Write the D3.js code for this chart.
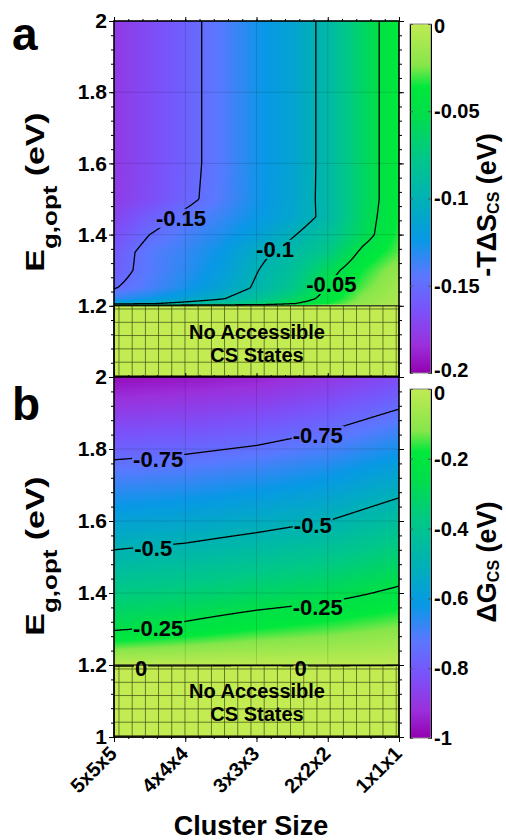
<!DOCTYPE html>
<html lang="en">
<head>
<meta charset="UTF-8">
<script src="https://cdn.jsdelivr.net/npm/d3@7"></script>
<style>
  body { margin: 0; background: #fff; }
  svg text { font-family: "Liberation Sans", Arial, sans-serif; font-weight: bold; fill: #000; }
</style>
</head>
<body>
<script>
// x axis categories (left to right)
var clusters = ["5x5x5", "4x4x4", "3x3x3", "2x2x2", "1x1x1"];

// panel a: -T dS_CS (eV), rows = Eg,opt (eV), columns = cluster-axis position
var colsA = [0, 0.5, 1, 1.5, 2, 2.5, 3, 3.5, 4];
var rowsA = [1.2, 1.205, 1.22, 1.25, 1.3, 1.35, 1.4, 1.45, 1.5, 1.6, 2.0];
var entropyA = [
  [-0.02, -0.02, -0.018, -0.016, -0.014, -0.012, -0.01, -0.008, -0.005],
  [-0.11, -0.1, -0.09, -0.08, -0.07, -0.05, -0.035, -0.018, -0.008],
  [-0.135, -0.125, -0.115, -0.102, -0.085, -0.065, -0.042, -0.022, -0.01],
  [-0.151, -0.14, -0.128, -0.114, -0.097, -0.078, -0.048, -0.028, -0.012],
  [-0.158, -0.143, -0.133, -0.12, -0.101, -0.085, -0.058, -0.035, -0.018],
  [-0.16, -0.143, -0.135, -0.124, -0.106, -0.092, -0.075, -0.045, -0.028],
  [-0.166, -0.15, -0.14, -0.13, -0.118, -0.102, -0.085, -0.058, -0.032],
  [-0.172, -0.158, -0.146, -0.136, -0.124, -0.112, -0.094, -0.06, -0.034],
  [-0.177, -0.167, -0.155, -0.142, -0.127, -0.113, -0.093, -0.062, -0.035],
  [-0.178, -0.168, -0.156, -0.143, -0.127, -0.114, -0.093, -0.062, -0.035],
  [-0.178, -0.168, -0.156, -0.143, -0.127, -0.114, -0.093, -0.062, -0.035]
];
var levelsA = [-0.15, -0.1, -0.05];
var labelsA = [
  {text: "-0.15", x: 0.94, y: 1.447},
  {text: "-0.1", x: 2.26, y: 1.36},
  {text: "-0.05", x: 3.05, y: 1.261}
];
var cbTicksA = [0, -0.05, -0.1, -0.15, -0.2];

// panel b: dG_CS (eV)
var colsB = [0, 1, 2, 3, 4];
var rowsB = [1.18, 1.2, 1.25, 1.3, 1.4, 1.5, 1.6, 1.7, 1.8, 1.9, 2.0];
var freeEnergyB = [
  [0.03, 0.03, 0.03, 0.03, 0.03],
  [-0.005, -0.004, -0.003, -0.004, -0.002],
  [-0.14, -0.114, -0.091, -0.076, -0.058],
  [-0.26, -0.224, -0.178, -0.149, -0.115],
  [-0.37, -0.348, -0.316, -0.284, -0.23],
  [-0.48, -0.46, -0.427, -0.392, -0.334],
  [-0.58, -0.564, -0.535, -0.5, -0.435],
  [-0.68, -0.665, -0.637, -0.6, -0.536],
  [-0.78, -0.765, -0.74, -0.7, -0.638],
  [-0.88, -0.865, -0.842, -0.8, -0.739],
  [-0.98, -0.965, -0.945, -0.9, -0.84]
];
var levelsB = [-0.75, -0.5, -0.25, 0];
var labelsB = [
  {text: "-0.75", x: 0.62, y: 1.772}, {text: "-0.75", x: 2.86, y: 1.839},
  {text: "-0.5", x: 0.55, y: 1.525}, {text: "-0.5", x: 2.79, y: 1.589},
  {text: "-0.25", x: 0.62, y: 1.303}, {text: "-0.25", x: 2.86, y: 1.361},
  {text: "0", x: 0.38, y: 1.192}, {text: "0", x: 2.62, y: 1.192}
];
var cbTicksB = [0, -0.2, -0.4, -0.6, -0.8, -1];

var yTicks = [1, 1.2, 1.4, 1.6, 1.8, 2];

// colour map (fraction of the colour range -> colour)
var stopT = [0, 0.08, 0.18, 0.28, 0.38, 0.5, 0.62, 0.74, 0.82, 0.88, 1];
var stopC = ["#9400b0", "#9a30dc", "#7a52fa", "#5a78ff", "#0898e6", "#00b2b4",
             "#00c888", "#00de4a", "#00e83c", "#86e64a", "#c0ea52"];

var L = 114, R = 399;
var svg = d3.select("body").append("svg").attr("width", 506).attr("height", 840);
var defs = svg.append("defs");
var x = d3.scaleLinear().domain([0, 4]).range([L, R]);

function locate(arr, v) {
  var n = arr.length;
  if (v <= arr[0]) return [0, 0];
  if (v >= arr[n - 1]) return [n - 2, 1];
  var i = d3.bisectRight(arr, v) - 1;
  return [i, (v - arr[i]) / (arr[i + 1] - arr[i])];
}
function bilinear(cols, rows, vals, xv, yv) {
  var a = locate(cols, xv), b = locate(rows, yv);
  var i = a[0], s = a[1], j = b[0], t = b[1];
  return (1 - t) * ((1 - s) * vals[j][i] + s * vals[j][i + 1]) +
         t * ((1 - s) * vals[j + 1][i] + s * vals[j + 1][i + 1]);
}
function fmt(d) { return String(+d.toFixed(2)); }

function drawPanel(p) {
  var y = d3.scaleLinear().domain([1, 2]).range([p.bottom, p.top]);
  var w = R - L, h = p.bottom - p.top;
  var cmap = d3.scaleLinear()
    .domain(stopT.map(function (t) { return p.domain[0] + t * (p.domain[1] - p.domain[0]); }))
    .range(stopC).clamp(true);
  var val = function (xv, yv) { return bilinear(p.cols, p.rows, p.vals, xv, yv); };
  var g = svg.append("g");

  // heat map
  var canvas = document.createElement("canvas");
  canvas.width = w; canvas.height = h;
  var ctx = canvas.getContext("2d");
  var img = ctx.createImageData(w, h);
  for (var j = 0; j < h; j++) {
    for (var i = 0; i < w; i++) {
      var c = d3.rgb(cmap(val(x.invert(L + i + 0.5), y.invert(p.top + j + 0.5))));
      var k = 4 * (j * w + i);
      img.data[k] = c.r; img.data[k + 1] = c.g; img.data[k + 2] = c.b; img.data[k + 3] = 255;
    }
  }
  ctx.putImageData(img, 0, 0);
  g.append("image").attr("href", canvas.toDataURL())
    .attr("x", L).attr("y", p.top).attr("width", w).attr("height", h)
    .attr("preserveAspectRatio", "none");

  // faint grid
  g.append("g").selectAll("line").data([1, 2, 3]).enter().append("line")
    .attr("x1", function (d) { return x(d); }).attr("x2", function (d) { return x(d); })
    .attr("y1", p.top).attr("y2", p.bottom)
    .attr("stroke", "rgba(0,0,0,0.13)");
  g.append("g").selectAll("line").data([1.2, 1.4, 1.6, 1.8]).enter().append("line")
    .attr("y1", function (d) { return y(d); }).attr("y2", function (d) { return y(d); })
    .attr("x1", L).attr("x2", R)
    .attr("stroke", "rgba(0,0,0,0.13)");

  // hatched "no accessible" region
  var hid = "hatch-" + p.id;
  var pat = defs.append("pattern").attr("id", hid).attr("patternUnits", "userSpaceOnUse")
    .attr("x", 118.5).attr("y", p.bottom - 2).attr("width", 13.2).attr("height", 13.3);
  pat.append("rect").attr("width", 13.2).attr("height", 13.3).attr("fill", "#c2ec52");
  pat.append("path").attr("d", "M0,0H13.2M0,0V13.3").attr("stroke", "#3c4812")
    .attr("stroke-width", 1.4).attr("fill", "none");
  g.append("rect").attr("x", L).attr("y", y(1.2)).attr("width", w).attr("height", p.bottom - y(1.2))
    .attr("fill", "url(#" + hid + ")").attr("stroke", "#222").attr("stroke-width", 1.2);
  g.append("text").attr("x", 257).attr("y", y(1.2) + 33).attr("text-anchor", "middle")
    .attr("font-size", 20).text("No Accessible");
  g.append("text").attr("x", 257).attr("y", y(1.2) + 56).attr("text-anchor", "middle")
    .attr("font-size", 20).text("CS States");

  // contour lines, computed on a pixel grid a bit larger than the plot
  var pad = 2, nx = w + 2 * pad, ny = h + 2 * pad, grid = new Array(nx * ny);
  for (var jj = 0; jj < ny; jj++) {
    for (var ii = 0; ii < nx; ii++) {
      grid[jj * nx + ii] = val(x.invert(L - pad + ii + 0.5), y.invert(p.top - pad + jj + 0.5));
    }
  }
  var contours = d3.contours().size([nx, ny]).thresholds(p.levels)(grid);
  var cid = "clip-" + p.id, mid = "mask-" + p.id;
  defs.append("clipPath").attr("id", cid).append("rect")
    .attr("x", L).attr("y", p.top).attr("width", w).attr("height", h);
  var mask = defs.append("mask").attr("id", mid).attr("maskUnits", "userSpaceOnUse")
    .attr("x", 0).attr("y", 0).attr("width", 506).attr("height", 840);
  mask.append("rect").attr("width", 506).attr("height", 840).attr("fill", "#fff");
  var path = d3.geoPath(d3.geoIdentity().translate([L - pad, p.top - pad]));
  g.append("g").attr("clip-path", "url(#" + cid + ")").attr("mask", "url(#" + mid + ")")
    .selectAll("path").data(contours).enter().append("path")
    .attr("d", path).attr("fill", "none").attr("stroke", "#000").attr("stroke-width", 1.3);

  // contour labels
  g.append("g").selectAll("text").data(p.labels).enter().append("text")
    .attr("x", function (d) { return x(d.x); }).attr("y", function (d) { return y(d.y); })
    .attr("dy", "0.36em").attr("text-anchor", "middle").attr("font-size", 22)
    .text(function (d) { return d.text; })
    .each(function () {
      var b = this.getBBox();
      mask.append("rect").attr("x", b.x - 1).attr("y", b.y + 3)
        .attr("width", b.width + 2).attr("height", b.height - 6).attr("fill", "#000");
    });

  // frame and ticks
  g.append("rect").attr("x", L).attr("y", p.top).attr("width", w).attr("height", h)
    .attr("fill", "none").attr("stroke", "#000").attr("stroke-width", 1.6);
  var minorY = d3.range(1, 2.001, 0.04), minorX = d3.range(0, 4.001, 0.2);
  var left = g.append("g").attr("transform", "translate(" + L + ",0)")
    .call(d3.axisLeft(y).tickValues(p.yTicks).tickSize(5).tickPadding(2).tickFormat(fmt));
  left.selectAll("text").attr("font-size", 21).attr("font-family", null);
  g.append("g").attr("transform", "translate(" + L + ",0)")
    .call(d3.axisLeft(y).tickValues(minorY).tickSize(3).tickFormat(""));
  g.append("g").attr("transform", "translate(" + R + ",0)")
    .call(d3.axisRight(y).tickValues(yTicks).tickSize(5).tickFormat(""));
  g.append("g").attr("transform", "translate(" + R + ",0)")
    .call(d3.axisRight(y).tickValues(minorY).tickSize(3).tickFormat(""));
  g.append("g").attr("transform", "translate(0," + p.top + ")")
    .call(d3.axisTop(x).tickValues([0, 1, 2, 3, 4]).tickSize(4).tickFormat(""));
  g.append("g").attr("transform", "translate(0," + p.top + ")")
    .call(d3.axisTop(x).tickValues(minorX).tickSize(2).tickFormat(""));
  g.selectAll(".domain").remove();

  // colour bar
  var gid = "grad-" + p.id;
  var grad = defs.append("linearGradient").attr("id", gid)
    .attr("x1", 0).attr("y1", 1).attr("x2", 0).attr("y2", 0);
  grad.selectAll("stop").data(stopT).enter().append("stop")
    .attr("offset", function (d) { return d; })
    .attr("stop-color", function (d, i) { return stopC[i]; });
  var cb = d3.scaleLinear().domain(p.domain).range([p.cbBottom, p.cbTop]);
  g.append("rect").attr("x", 410).attr("y", p.cbTop).attr("width", 21)
    .attr("height", p.cbBottom - p.cbTop).attr("fill", "url(#" + gid + ")")
    .attr("stroke", "#8a8a8a").attr("stroke-width", 1);
  g.append("g").attr("transform", "translate(410,0)")
    .call(d3.axisRight(cb).tickValues(p.cbTicks).tickSize(3).tickFormat(""))
    .selectAll("line").attr("stroke", "#555");
  g.append("g").attr("transform", "translate(431,0)")
    .call(d3.axisLeft(cb).tickValues(p.cbTicks).tickSize(3).tickFormat(""))
    .selectAll("line").attr("stroke", "#555");
  var cbl = g.append("g").attr("transform", "translate(431,0)")
    .call(d3.axisRight(cb).tickValues(p.cbTicks).tickSize(0).tickPadding(3).tickFormat(fmt));
  cbl.selectAll("text").attr("font-size", 20).attr("font-family", null)
    .attr("transform", function (d) {
      if (d === p.domain[0]) return "translate(0," + p.cbShiftLow + ")";
      if (d === p.domain[1]) return "translate(0," + p.cbShiftHigh + ")";
      return null;
    });
  cbl.select(".domain").remove();

  // titles (the y title is drawn stretched along its reading direction, as in the figure)
  var yt = g.append("text")
    .attr("transform", "translate(44," + p.titleY + ") rotate(-90) scale(1.3,1)")
    .attr("text-anchor", "middle").attr("font-size", 26);
  yt.append("tspan").text("E");
  yt.append("tspan").attr("font-size", 20).attr("dy", 13).text("g,opt");
  yt.append("tspan").attr("dy", -13).text(" (eV)");

  var ct = g.append("text").attr("transform", "translate(496," + p.cbTitleY + ") rotate(-90)")
    .attr("text-anchor", "middle").attr("font-size", 27);
  ct.append("tspan").text(p.cbName);
  ct.append("tspan").attr("font-size", 16).attr("dy", 3).text("CS");
  ct.append("tspan").attr("dy", -3).text(" (eV)");

  g.append("text").attr("x", 12).attr("y", p.letterY).attr("font-size", 46).text(p.id);
  return y;
}

drawPanel({id: "a", top: 21, bottom: 377, cols: colsA, rows: rowsA, vals: entropyA,
  domain: [-0.2, 0], levels: levelsA, labels: labelsA, cbTicks: cbTicksA,
  cbTop: 24, cbBottom: 373, cbShiftLow: -3, cbShiftHigh: 2,
  yTicks: yTicks.slice(1), titleY: 192, cbTitleY: 205,
  cbName: "-TΔS", letterY: 50});
drawPanel({id: "b", top: 377, bottom: 737, cols: colsB, rows: rowsB, vals: freeEnergyB,
  domain: [-1, 0], levels: levelsB, labels: labelsB, cbTicks: cbTicksB,
  cbTop: 389, cbBottom: 738, cbShiftLow: 0, cbShiftHigh: 4,
  yTicks: yTicks, titleY: 556, cbTitleY: 562,
  cbName: "ΔG", letterY: 420});

// x axis of the lower panel
var xb = svg.append("g").attr("transform", "translate(0,737)");
xb.append("g").call(d3.axisBottom(x).tickValues([0, 1, 2, 3, 4]).tickSize(5).tickFormat(""));
xb.append("g").call(d3.axisBottom(x).tickValues(d3.range(0, 4.001, 0.2)).tickSize(2).tickFormat(""));
xb.selectAll(".domain").remove();
svg.append("g").selectAll("text").data(clusters).enter().append("text")
  .attr("transform", function (d, i) { return "translate(" + (x(i) + 4) + ",755) rotate(-45)"; })
  .attr("text-anchor", "end").attr("font-size", 20)
  .text(function (d) { return d; });
svg.append("text").attr("x", 251).attr("y", 835).attr("text-anchor", "middle")
  .attr("font-size", 27).text("Cluster Size");
</script>
</body>
</html>
